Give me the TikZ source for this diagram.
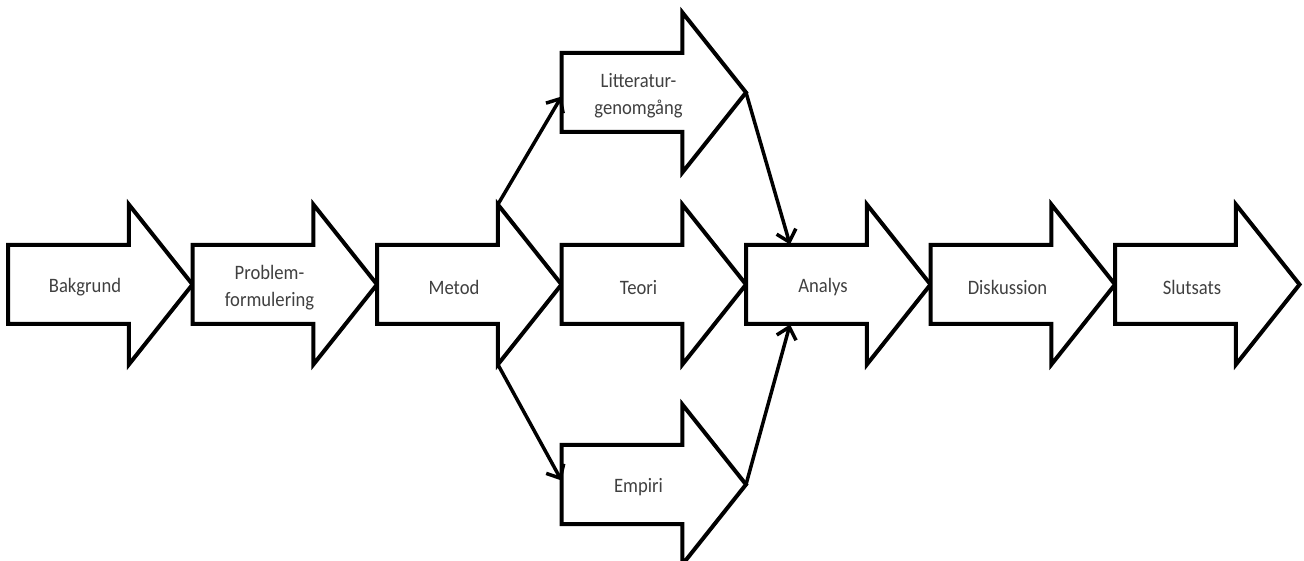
\documentclass[tikz,border=0pt]{standalone}
\usepackage{fontspec}
\setmainfont{Carlito}
\usetikzlibrary{shapes.arrows, arrows.meta, positioning, calc}

\tikzset{
    stepArrow/.style={single arrow, draw=black, fill=white, line width=4bp,
        minimum height=184.5bp, inner xsep=0pt, inner ysep=37.5bp, outer sep=0pt,
        single arrow head extend=40.5bp, single arrow tip angle=103, anchor=tail},
    stepText/.style={text=black!75, align=center, yscale=1.1,
        font=\fontsize{18.7}{24.8}\selectfont},
    flow/.style={line width=3.5bp, line cap=round, line join=round,
        -{Straight Barb[length=11bp,width=20bp]}}
}

\begin{document}
\begin{tikzpicture}[x=1bp, y=1bp]
    \useasboundingbox (0,0) rectangle (1304,561);

    % Huvudflöde
    \node[stepArrow] (bak) at (8,276.5) {};
    \foreach \n/\p in {prob/bak, met/prob, teo/met, ana/teo, dis/ana, slu/dis}
        \node[stepArrow] (\n) at (\p.tip) {};

    % Grenar
    \node[stepArrow] (lit) at ([yshift=192bp]teo.tail) {};
    \node[stepArrow] (emp) at ([yshift=-200bp]teo.tail) {};

    % Texter
    \foreach \n/\t in {bak/Bakgrund, prob/{Problem-\\formulering}, met/Metod,
                       teo/Teori, lit/{Litteratur-\\genomgång}, emp/Empiri,
                       ana/Analys, dis/Diskussion, slu/Slutsats}
        \node[stepText] (\n-t) at ([xshift=77bp, yshift=-3bp]\n.tail) {\t};

    % Pilar
    \draw[flow] (met.before tip) -- ([yshift=-4bp]lit.tail);
    \draw[flow] (met.after tip) -- ([yshift=4bp]emp.tail);
    \draw[flow] (lit.tip) -- ($(ana.tail)+(44bp,40bp)$);
    \draw[flow] (emp.tip) -- ($(ana.tail)+(44bp,-40bp)$);
\end{tikzpicture}
\end{document}
